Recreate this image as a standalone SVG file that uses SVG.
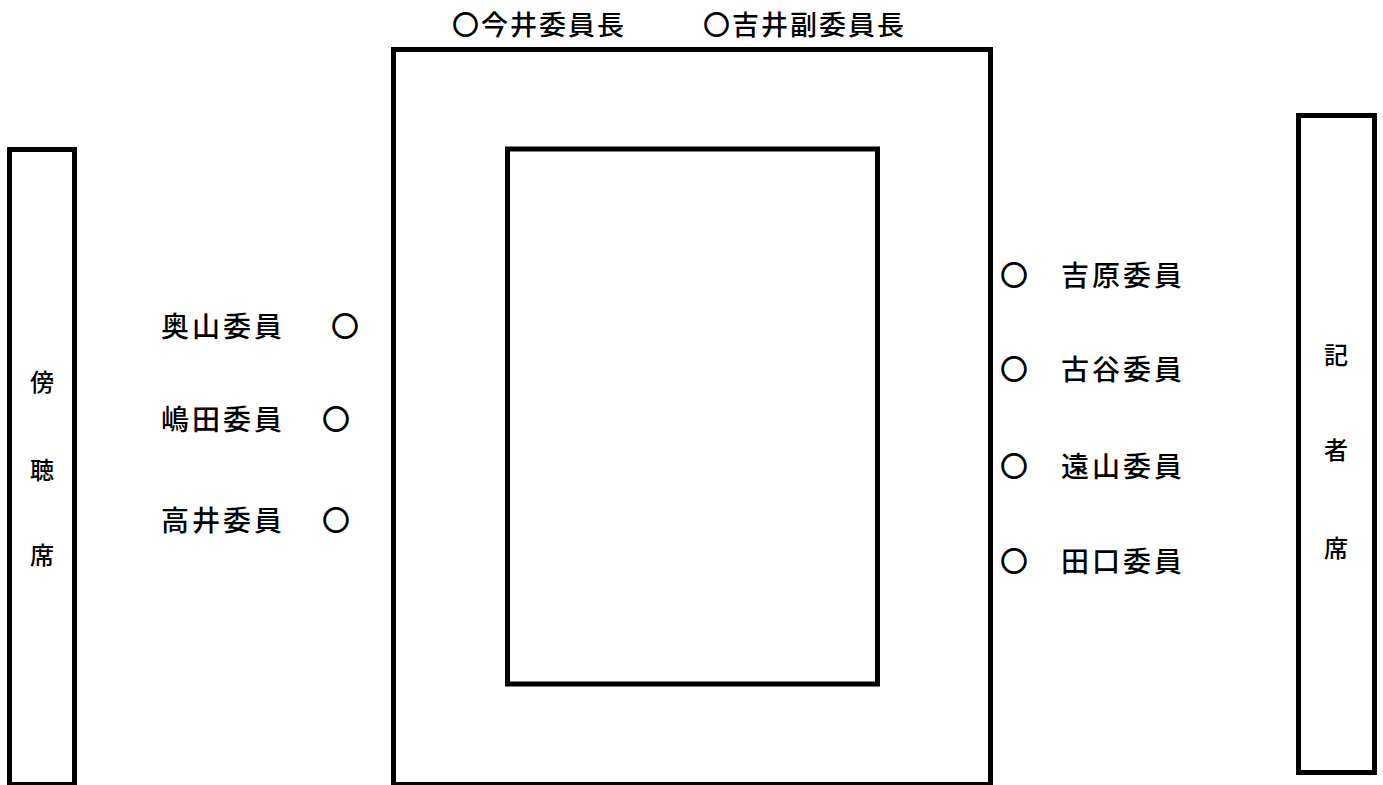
<svg xmlns="http://www.w3.org/2000/svg" width="1383" height="785" viewBox="0 0 1383 785">
<style>
.box{fill:none;stroke:#000;stroke-width:5}
.t{font-family:"Noto Sans CJK JP","Noto Sans CJK SC",sans-serif;fill:#000;font-weight:500}
.n{font-size:28px;letter-spacing:3px}
.top{font-size:27px;letter-spacing:2px}
.v{font-size:24px;text-anchor:middle}
</style>
<rect width="1383" height="785" fill="#fff"/>
<g id="gallery">
<rect class="box" x="9.5" y="149.5" width="65" height="635"/>
<text class="t v" x="42" y="391">傍</text>
<text class="t v" x="42" y="479">聴</text>
<text class="t v" x="42" y="564">席</text>
</g>
<g id="press">
<rect class="box" x="1298.5" y="115.5" width="76" height="657"/>
<text class="t v" x="1336" y="364">記</text>
<text class="t v" x="1336" y="459">者</text>
<text class="t v" x="1336" y="557">席</text>
</g>
<g id="table">
<rect class="box" x="393.5" y="49.5" width="597" height="735"/>
<rect class="box" x="507.5" y="149" width="370" height="535"/>
</g>
<g id="chairs">
<text class="t top" x="452" y="35">〇今井委員長</text>
<text class="t top" x="703" y="35">〇吉井副委員長</text>
</g>
<g id="left-members">
<text class="t n" x="161" y="337">奥山委員</text>
<text class="t n" x="331" y="337">〇</text>
<text class="t n" x="161" y="430">嶋田委員</text>
<text class="t n" x="322" y="430">〇</text>
<text class="t n" x="161" y="531">高井委員</text>
<text class="t n" x="322" y="531">〇</text>
</g>
<g id="right-members">
<text class="t n" x="1000" y="286">〇</text>
<text class="t n" x="1061" y="286">吉原委員</text>
<text class="t n" x="1000" y="380">〇</text>
<text class="t n" x="1061" y="380">古谷委員</text>
<text class="t n" x="1000" y="477">〇</text>
<text class="t n" x="1061" y="477">遠山委員</text>
<text class="t n" x="1000" y="572">〇</text>
<text class="t n" x="1061" y="572">田口委員</text>
</g>
</svg>
